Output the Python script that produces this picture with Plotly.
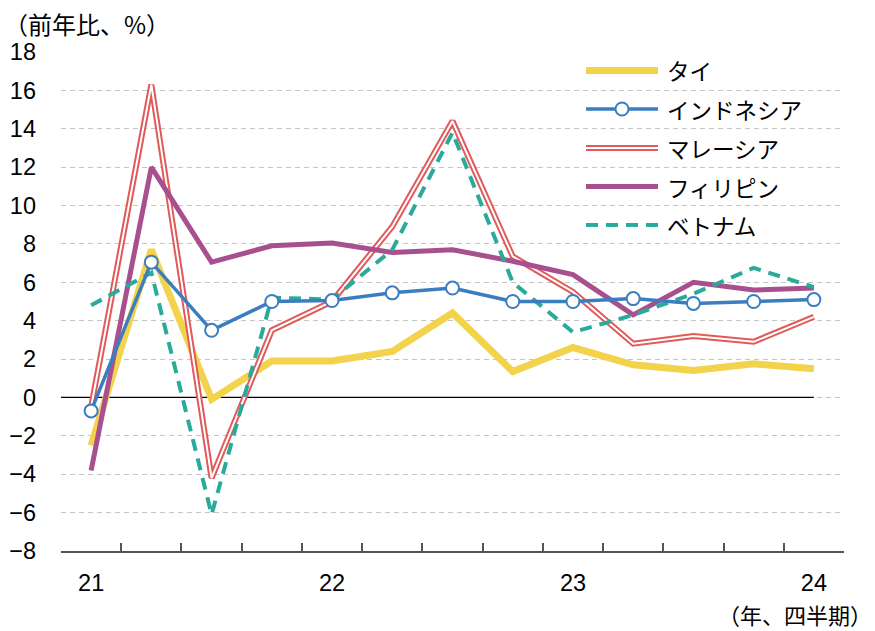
import plotly.graph_objects as go

# Quarterly real GDP growth, year-on-year (%), 2021Q1 - 2024Q1
quarters = ["21Q1", "21Q2", "21Q3", "21Q4",
            "22Q1", "22Q2", "22Q3", "22Q4",
            "23Q1", "23Q2", "23Q3", "23Q4",
            "24Q1"]
tick_text = ["21", "", "", "", "22", "", "", "", "23", "", "", "", "24"]

thailand = [-2.5, 7.7, -0.1, 1.9, 1.9, 2.4, 4.4, 1.35, 2.6, 1.7, 1.4, 1.75, 1.5]
indonesia = [-0.7, 7.05, 3.5, 5.0, 5.05, 5.45, 5.7, 5.0, 5.0, 5.15, 4.9, 5.0, 5.1]
malaysia = [-0.5, 16.3, -4.2, 3.5, 5.0, 8.9, 14.4, 7.35, 5.5, 2.8, 3.2, 2.9, 4.2]
philippines = [-3.8, 12.0, 7.05, 7.9, 8.05, 7.55, 7.7, 7.1, 6.4, 4.3, 6.0, 5.6, 5.7]
vietnam = [4.8, 6.5, -6.1, 5.2, 5.1, 7.7, 13.8, 6.0, 3.4, 4.3, 5.4, 6.75, 5.75]

series_names = ["タイ", "インドネシア", "マレーシア", "フィリピン", "ベトナム"]

YELLOW = "#F2D34B"
BLUE = "#3A7EC0"
RED = "#E05A5A"
PURPLE = "#A8508F"
TEAL = "#2AAA9B"

FONT = "Liberation Sans, Arial, Noto Sans CJK JP"
JP_FONT = "Noto Sans CJK JP, sans-serif"

W, H = 875, 631
L, R, T, B = 61, 31, 52, 80
PW, PH = W - L - R, H - T - B


def paper_x(px):
    return (px - L) / PW


def paper_y(py):
    return (H - B - py) / PH


fig = go.Figure()

fig.add_trace(go.Scatter(x=quarters, y=thailand, mode="lines",
                         line=dict(color=YELLOW, width=7), showlegend=False))
fig.add_trace(go.Scatter(x=quarters, y=malaysia, mode="lines",
                         line=dict(color=RED, width=6), showlegend=False))
fig.add_trace(go.Scatter(x=quarters, y=malaysia, mode="lines",
                         line=dict(color="white", width=2), showlegend=False))
fig.add_trace(go.Scatter(x=quarters, y=philippines, mode="lines",
                         line=dict(color=PURPLE, width=5), showlegend=False))
fig.add_trace(go.Scatter(x=quarters, y=vietnam, mode="lines",
                         line=dict(color=TEAL, width=4, dash="12px,8px"),
                         showlegend=False))
fig.add_trace(go.Scatter(x=quarters, y=indonesia, mode="lines+markers",
                         line=dict(color=BLUE, width=3.5),
                         marker=dict(size=13, color="white",
                                     line=dict(color=BLUE, width=2)),
                         showlegend=False))

# Hand-drawn legend on an overlay axis spanning the plot area in pixels
leg_x0, leg_x1, leg_text_x = 586, 658, 665
leg_rows = [70.5, 109, 148, 186.5, 225]
styles = [
    [dict(color=YELLOW, width=7)],
    [dict(color=BLUE, width=3.5)],
    [dict(color=RED, width=6), dict(color="white", width=2)],
    [dict(color=PURPLE, width=5)],
    [dict(color=TEAL, width=4, dash="12px,8px")],
]
for name, row, st in zip(series_names, leg_rows, styles):
    for s in st:
        fig.add_trace(go.Scatter(x=[leg_x0, leg_x1], y=[row, row], mode="lines",
                                 line=s, xaxis="x2", yaxis="y2",
                                 showlegend=False, hoverinfo="skip",
                                 cliponaxis=False))
    if name == "インドネシア":
        fig.add_trace(go.Scatter(x=[(leg_x0 + leg_x1) / 2], y=[row], mode="markers",
                                 marker=dict(size=13, color="white",
                                             line=dict(color=BLUE, width=2)),
                                 xaxis="x2", yaxis="y2", showlegend=False,
                                 hoverinfo="skip", cliponaxis=False))
    fig.add_annotation(x=paper_x(leg_text_x), y=paper_y(row), xref="paper", yref="paper",
                       text=name, showarrow=False, xanchor="left", yanchor="middle",
                       font=dict(family=JP_FONT, size=22.5, color="black"))

# Zero line across the data span, under the series
fig.add_shape(type="line", xref="x", yref="y", x0=-0.5, x1=12, y0=0, y1=0,
              line=dict(color="black", width=1.2), layer="between")

fig.add_annotation(x=paper_x(2), y=paper_y(24), xref="paper", yref="paper",
                   text="（前年比、%）", showarrow=False, xanchor="left",
                   yanchor="middle", font=dict(family=JP_FONT, size=24, color="black"))
fig.add_annotation(x=paper_x(873), y=paper_y(614), xref="paper", yref="paper",
                   text="（年、四半期）", showarrow=False, xanchor="right",
                   yanchor="middle", borderpad=0,
                   font=dict(family=JP_FONT, size=22, color="black"))

fig.update_layout(
    width=W, height=H,
    margin=dict(l=L, r=R, t=T, b=B, pad=0, autoexpand=False),
    paper_bgcolor="white", plot_bgcolor="white",
    font=dict(family=FONT, size=24, color="black"),
    showlegend=False,
    xaxis=dict(type="category", categoryorder="array", categoryarray=quarters,
               range=[-0.5, 12.5], tickvals=quarters, ticktext=tick_text,
               tickson="boundaries", ticks="inside", ticklen=8, tickwidth=1.5,
               tickcolor="#555555", showline=True, linecolor="#555555", linewidth=2,
               showgrid=False, zeroline=False, ticklabelstandoff=10, automargin=False,
               tickfont=dict(family=FONT, size=23.5, color="black")),
    yaxis=dict(range=[-8, 18], dtick=2, tick0=0, showgrid=True,
               gridcolor="#C4C4C4", gridwidth=1, griddash="5px,4px",
               zeroline=False, showline=False, ticks="", ticklabelstandoff=24,
               automargin=False,
               tickfont=dict(family=FONT, size=23.5, color="black")),
    xaxis2=dict(overlaying="x", range=[L, W - R], visible=False, fixedrange=True),
    yaxis2=dict(overlaying="y", range=[H - B, T], visible=False, fixedrange=True),
)

fig.write_html("out.html")
